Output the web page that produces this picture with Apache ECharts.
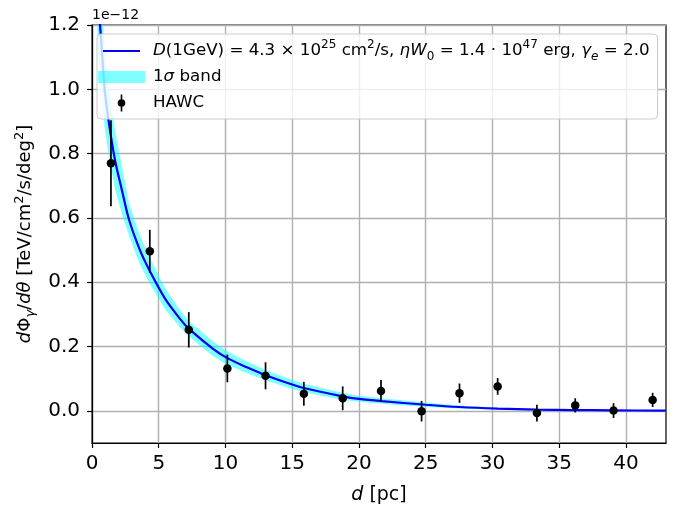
<!DOCTYPE html>
<html><head><meta charset="utf-8">
<script src="https://cdn.jsdelivr.net/npm/echarts@6/dist/echarts.min.js"></script>
<style>html,body{margin:0;padding:0;background:#fff}#c{width:676px;height:515px}</style>
</head><body><div id="c"></div>
<script>
// ---- data (flux in units of 1e-12 TeV/cm^2/s/deg^2) ----
const hawcD    = [1.42, 4.33, 7.25, 10.14, 13.0, 15.87, 18.78, 21.65, 24.69, 27.53, 30.39, 33.33, 36.2, 39.07, 42.0];
const hawcFlux = [0.77, 0.496, 0.252, 0.132, 0.109, 0.053, 0.039, 0.062, -0.001, 0.055, 0.076, -0.007, 0.017, 0.001, 0.034];
const hawcErr  = [0.134, 0.067, 0.055, 0.043, 0.042, 0.037, 0.037, 0.034, 0.032, 0.030, 0.026, 0.026, 0.022, 0.023, 0.022];

const modelD    = [0.4, 0.62, 0.95, 1.25, 1.72, 2.22, 2.77, 3.59, 4.33, 5.46, 6.58, 7.27, 9.07, 10.14, 11.56, 13.0, 15.0, 15.87, 18.78, 20.0, 21.7, 25.0, 27.5, 30.4, 33.3, 36.0, 39.0, 43.0];
const modelFlux = [1.28, 1.19, 1.00, 0.90, 0.78, 0.69, 0.595, 0.50, 0.435, 0.35, 0.287, 0.255, 0.193, 0.164, 0.136, 0.111, 0.082, 0.071, 0.045, 0.037, 0.030, 0.019, 0.012, 0.007, 0.004, 0.0025, 0.0015, 0.0007];
const bandLow   = [1.12, 1.04, 0.88, 0.795, 0.69, 0.615, 0.545, 0.455, 0.395, 0.317, 0.26, 0.231, 0.17, 0.143, 0.118, 0.095, 0.068, 0.058, 0.034, 0.028, 0.022, 0.012, 0.007, 0.004, 0.002, 0.0015, 0.001, 0.0004];
const bandHigh  = [1.44, 1.34, 1.12, 1.005, 0.87, 0.765, 0.645, 0.545, 0.475, 0.383, 0.314, 0.279, 0.216, 0.185, 0.154, 0.127, 0.096, 0.084, 0.056, 0.047, 0.039, 0.026, 0.017, 0.010, 0.006, 0.0035, 0.002, 0.001];

const xTicks = [0, 5, 10, 15, 20, 25, 30, 35, 40];
const yTicks = [0, 0.2, 0.4, 0.6, 0.8, 1.0, 1.2];

const FONT = 'DejaVu Sans';
const chart = echarts.init(document.getElementById('c'), null, {renderer: 'canvas'});

const ptsData  = hawcD.map((d, i) => [d, hawcFlux[i]]);
const errData  = hawcD.map((d, i) => [d, hawcFlux[i] - hawcErr[i], hawcFlux[i] + hawcErr[i]]);
const lineData = modelD.map((d, i) => [d, modelFlux[i]]);
const bandData = modelD.map((d, i) => [d, bandLow[i], bandHigh[i]]);

function richSet(fs, lh) {
  const s = Math.round(fs * 0.71);
  return {
    i:    {fontFamily: FONT, fontStyle: 'italic', fontSize: fs, lineHeight: lh, color: '#000'},
    n:    {fontFamily: FONT, fontSize: fs, lineHeight: lh, color: '#000'},
    sup:  {fontFamily: FONT, fontSize: s, lineHeight: s, verticalAlign: 'top', color: '#000'},
    sub:  {fontFamily: FONT, fontSize: s, lineHeight: s + 2, verticalAlign: 'bottom', color: '#000'},
    subi: {fontFamily: FONT, fontStyle: 'italic', fontSize: s, lineHeight: s + 2, verticalAlign: 'bottom', color: '#000'}
  };
}

const MODEL = 'model';
const BAND = '1σ band';
const HAWC = 'HAWC';

const option = {
  animation: false,
  backgroundColor: '#fff',
  title: {
    text: '1e\u221212', left: 87, top: 3,
    textStyle: {fontFamily: FONT, fontSize: 14, fontWeight: 'normal', color: '#000'}
  },
  grid: {left: 92, right: 10, top: 25, bottom: 72, show: true, borderColor: '#000', borderWidth: 1.2, backgroundColor: 'transparent'},
  xAxis: {
    type: 'value', min: 0, max: 43, interval: 5,
    name: '{i|d}{n| [pc]}', nameLocation: 'middle', nameGap: 40,
    nameTextStyle: {fontFamily: FONT, fontSize: 19, color: '#000', rich: richSet(19, 24)},
    axisLine: {show: true, onZero: false, lineStyle: {color: '#000', width: 1.2}},
    axisTick: {show: true, inside: false, length: 5, lineStyle: {color: '#000', width: 1.2}, customValues: xTicks},
    axisLabel: {fontFamily: FONT, fontSize: 20, color: '#000', margin: 11, customValues: xTicks},
    splitLine: {show: true, lineStyle: {color: '#b0b0b0', width: 1.4}}
  },
  yAxis: {
    type: 'value', min: -0.1, max: 1.2, splitNumber: 6,
    name: '{i|d}{n|Φ}{subi|γ}{n|/}{i|dθ}{n| [TeV/cm}{sup|2}{n|/s/deg}{sup|2}{n|]}',
    nameLocation: 'middle', nameGap: 33, nameRotate: 90,
    nameTextStyle: {fontFamily: FONT, fontSize: 18, color: '#000', rich: richSet(18, 24)},
    axisLine: {show: true, onZero: false, lineStyle: {color: '#000', width: 1.2}},
    axisTick: {show: true, inside: false, length: 5, lineStyle: {color: '#000', width: 1.2}, customValues: yTicks},
    axisLabel: {fontFamily: FONT, fontSize: 20, color: '#000', margin: 12, customValues: yTicks,
      formatter: v => v.toFixed(1)},
    splitLine: {show: true, lineStyle: {color: '#b0b0b0', width: 1.4}}
  },
  legend: {
    orient: 'vertical', left: 97, top: 34,
    itemWidth: 47, itemHeight: 24, itemGap: 2,
    padding: [5, 8, 4, 1],
    backgroundColor: 'rgba(255,255,255,0.8)', borderColor: '#cccccc', borderWidth: 1, borderRadius: 4,
    selectedMode: false,
    textStyle: {fontFamily: FONT, fontSize: 16.7, color: '#000', lineHeight: 24, padding: [0, 0, 0, 3], rich: richSet(16.7, 24)},
    formatter: function (name) {
      if (name === MODEL) return '{i|D}{n|(1GeV) = 4.3 × 10}{sup|25}{n| cm}{sup|2}{n|/s, }{i|ηW}{sub|0}{n| = 1.4 · 10}{sup|47}{n| erg, }{i|γ}{subi|e}{n| = 2.0}';
      if (name === BAND) return '{n|1}{i|σ}{n| band}';
      return '{n|' + name + '}';
    },
    data: [
      {name: MODEL, icon: 'path://M-5,1L-5,1M0,0H37V2.2H0ZM42,1L42,1', itemStyle: {color: '#0000ff'}},
      {name: BAND, icon: 'path://M0,0H47V12H0Z', itemStyle: {color: 'rgba(0,255,255,0.5)'}},
      {name: HAWC, icon: 'path://M-23.5,0L-23.5,0M-0.8,-8.5H0.8V8.5H-0.8ZM-3.8,0A3.8,3.8 0 1 1 3.8,0A3.8,3.8 0 1 1 -3.8,0ZM23.5,0L23.5,0', itemStyle: {color: '#000'}}
    ]
  },
  series: [
    {
      type: 'custom', name: BAND, clip: true, silent: true, z: 1,
      data: bandData, encode: {x: 0, y: [1, 2]},
      renderItem: function (params, api) {
        if (params.dataIndex !== 0) return null;
        const up = bandData.map(r => api.coord([r[0], r[2]]));
        const lo = bandData.map(r => api.coord([r[0], r[1]])).reverse();
        return {type: 'polygon', shape: {points: up.concat(lo), smooth: 0}, style: {fill: 'rgba(0,255,255,0.5)'}};
      }
    },
    {
      type: 'line', name: MODEL, data: lineData, symbol: 'none', smooth: 0.3, clip: true, z: 2,
      lineStyle: {color: '#0000ff', width: 2.2}, itemStyle: {color: '#0000ff'}
    },
    {
      type: 'custom', name: 'HAWC errors', clip: true, silent: true, z: 3,
      data: errData, encode: {x: 0, y: [1, 2]},
      renderItem: function (params, api) {
        const a = api.coord([api.value(0), api.value(1)]);
        const b = api.coord([api.value(0), api.value(2)]);
        return {type: 'line', shape: {x1: a[0], y1: a[1], x2: b[0], y2: b[1]}, style: {stroke: '#000', lineWidth: 1.7, opacity: 1}};
      }
    },
    {
      type: 'scatter', name: HAWC, data: ptsData, symbol: 'circle', symbolSize: 8.5, z: 4,
      itemStyle: {color: '#000', opacity: 1}
    }
  ]
};
chart.setOption(option);
</script>
</body></html>
